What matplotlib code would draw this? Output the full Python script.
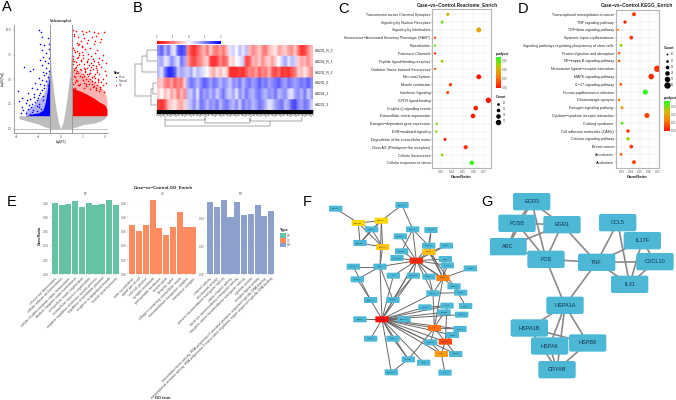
import matplotlib
matplotlib.use("Agg")
import numpy as np
import matplotlib.pyplot as plt
from matplotlib.colors import LinearSegmentedColormap, Normalize
from matplotlib.cm import ScalarMappable
from matplotlib.patches import FancyBboxPatch, Rectangle

plt.rcParams["font.family"] = ["Liberation Sans", "DejaVu Sans"]

W, H = 676, 400
GRAY_TXT = "#4d4d4d"

# ================= A: volcano =================
v_gray_x = [-1.0, -0.95, -0.85, -0.7, -0.55, -0.4, -0.2, 0.0, 0.2, 0.4, 0.55, 0.7, 0.85, 0.95, 1.0]
v_gray_top = [10.0, 7.5, 5.6, 4.3, 2.9, 1.8, 0.6, 0.0, 0.6, 1.8, 2.9, 4.3, 5.6, 7.5, 10.0]
v_wing_lx = [-3.8, -3.0, -2.0, -1.5, -1.0]
v_wing_llow = [1.0, 0.75, 0.45, 0.2, 0.03]
v_wing_rx = [1.0, 1.5, 2.0, 3.0, 3.6, 4.1]
v_wing_rlow = [0.03, 0.2, 0.4, 0.55, 0.75, 1.1]
v_red_x = [1.0, 1.5, 2.0, 2.5, 3.0, 3.5, 4.0, 4.2]
v_red_dense = [4.2, 3.9, 3.7, 3.4, 3.1, 2.7, 2.4, 2.0]
v_red_mid = [6.4, 6.0, 5.6, 5.2, 4.8, 4.4, 3.8, 3.0]
v_blue_x = [-3.2, -2.5, -2.0, -1.6, -1.4, -1.2, -1.0]
v_blue_dense = [1.3, 1.5, 1.6, 1.9, 2.7, 4.0, 5.5]
v_blue_mid = [1.8, 2.4, 3.0, 3.4, 4.0, 5.2, 6.2]
v_blue_px = [-2.0, -1.8, -1.7, -1.2, -1.9, -1.5, -1.1, -1.05, -1.7, -1.3, -1.6, -1.1, -1.9, -1.4, -1.15,
             -1.75, -1.3, -1.6, -1.1, -3.3, -2.5, -2.8, -1.5, -1.2, -2.0, -1.7, -1.3, -2.3, -1.9, -1.5,
             -1.2, -2.6, -2.2, -1.7, -3.9, -3.0, -2.4, -2.0, -1.6, -3.5, -2.8, -2.2, -3.8, -3.2, -2.6,
             -2.0, -3.5, -3.0, -2.5, -2.2, -1.8, -3.2, -2.8, -2.4, -2.0, -2.7, -2.1, -1.85, -2.9, -2.35,
             -1.55, -3.4, -2.65, -1.95, -1.35, -3.1, -2.15, -1.65, -2.45, -3.6]
v_blue_py = [10.0, 9.8, 9.3, 9.2, 8.6, 8.5, 8.6, 8.1, 8.0, 7.7, 7.3, 7.2, 7.0, 6.9, 6.6,
             6.4, 6.1, 5.7, 5.8, 6.2, 6.0, 5.8, 5.4, 5.2, 5.1, 4.9, 4.8, 4.6, 4.5, 4.4,
             4.4, 4.1, 4.0, 3.9, 3.8, 3.6, 3.5, 3.4, 3.3, 3.1, 3.0, 2.9, 2.8, 2.6, 2.5,
             2.5, 2.2, 2.0, 1.9, 1.8, 2.0, 1.6, 1.5, 1.5, 1.5, 2.2, 3.1, 3.6, 2.4, 2.7,
             4.1, 1.9, 1.7, 2.2, 5.6, 2.9, 2.3, 2.9, 3.2, 1.6]
v_red_px = [1.1, 1.4, 1.9, 2.3, 2.6, 3.0, 3.4, 3.9, 1.2, 1.6, 2.1, 2.8, 3.2, 3.7, 1.05,
            1.5, 1.55, 1.65, 1.8, 2.4, 3.0, 3.6, 1.1, 1.9, 2.2, 2.7, 3.3, 1.3, 1.7, 2.5,
            3.1, 3.8, 1.15, 1.6, 2.0, 2.9, 3.5, 1.25, 1.85, 2.35, 3.0, 3.4, 4.1, 1.1, 1.5,
            2.1, 2.6, 3.2, 3.7, 1.3, 1.75, 2.4, 2.9, 3.3, 4.0, 1.05, 1.6, 2.2, 2.7, 3.5,
            1.2, 1.9, 2.5, 3.1, 3.8, 1.4, 2.0, 2.8, 3.4, 4.15, 1.1, 1.7, 2.3, 3.0, 3.6,
            1.3, 2.15, 2.65, 3.25, 3.95, 1.5, 1.95, 2.45, 3.15, 3.75, 4.1, 1.2, 2.05, 2.75, 3.45,
            1.08, 1.35, 1.62, 1.88, 2.12, 2.38, 2.62, 2.88, 3.12, 3.38, 3.62, 3.88, 1.18, 1.42, 1.72, 1.98,
            2.28, 2.52, 2.82, 3.08, 3.32, 3.58, 1.03, 1.28, 1.52, 1.78, 2.08, 2.32, 2.58, 2.92, 3.22, 3.52,
            1.12, 1.38, 1.68, 1.92, 2.18, 2.42, 2.72, 2.98, 3.28, 1.22, 1.48, 1.82, 2.02, 2.48, 2.78, 3.18,
            1.33, 1.58, 2.25, 2.55, 2.85, 1.45, 2.12, 2.68, 3.05, 3.42]
v_red_py = [10.0, 9.9, 9.9, 9.8, 9.9, 9.8, 9.7, 9.8, 9.4, 9.3, 9.2, 9.3, 9.4, 9.1, 8.9,
            8.7, 8.5, 8.6, 8.9, 8.7, 8.6, 8.8, 8.2, 8.3, 8.1, 8.2, 8.0, 7.8, 7.7, 7.6,
            7.7, 7.5, 7.4, 7.3, 7.2, 7.1, 7.2, 6.9, 6.9, 6.8, 6.9, 6.7, 6.6, 6.5, 6.4,
            6.5, 6.4, 6.3, 6.2, 6.1, 6.0, 6.1, 6.0, 5.9, 5.8, 5.7, 5.6, 5.7, 5.6, 5.5,
            5.3, 5.2, 5.3, 5.1, 5.0, 4.9, 4.9, 4.8, 4.7, 4.6, 4.5, 4.4, 4.5, 4.3, 4.2,
            4.1, 4.1, 4.0, 3.9, 3.7, 7.9, 8.4, 9.0, 8.9, 7.0, 5.4, 9.6, 9.55, 7.35, 6.55,
            6.8, 6.2, 6.5, 5.9, 6.1, 5.5, 5.9, 5.2, 5.5, 5.0, 4.7, 4.4, 5.9, 5.6, 5.3, 5.5,
            5.0, 4.8, 4.5, 4.7, 4.4, 4.0, 5.0, 5.2, 4.8, 4.5, 4.6, 4.3, 4.5, 4.2, 4.1, 3.8,
            7.1, 6.7, 7.5, 7.8, 6.0, 6.7, 6.2, 6.4, 5.7, 8.0, 7.2, 7.0, 7.5, 7.1, 6.6, 6.1,
            4.7, 4.4, 5.8, 5.5, 5.2, 5.8, 5.3, 5.0, 5.3, 4.9]

# ================= B: heatmap =================
heat_rows = ["hiB201_R_3", "hiB201_R_1", "hiB201_R_2", "hiB201_0", "hiB201_1", "hiB201_3"]
heat_ticks = ["-2", "-1", "0", "1", "2"]
heat_1 = [5, 7, 3, 6, 2, 1, 7, 8, 7, -5, -8, -9, -7, -5, -3, -6, -2, -5, -6, -4, -6, -3, 1, 2, 0, 3, 1, 3,
          -3, -5, -4, -2, -5, -6, -3, -2, -1, -4, -3, -2, -4, -5, -2, -6, -9, -8, -5, -3]
heat_2 = [3, 4, 1, 2, 5, 3, 1, 6, 4, -4, -7, -8, -6, -5, -3, -2, -8, -9, -8, -5, -7, -6, -1, -2, 0, 1, 2, -8,
          -7, -3, -4, -2, -5, -3, -2, -4, -2, 0, 2, 4, 1, 3, 2, -2, -4, -3, -5, -3]
heat_3 = [3, 1, 6, 9, 9, 7, 2, 4, 3, 2, 4, 1, 3, 2, 1, 0, -2, -4, -1, -3, -1, -2, -9, -9, -9, -8, -9, -7,
          -5, -6, -4, -7, -5, -6, -3, -7, -8, -6, -9, -8, -9, -7, -6, -2, -3, -1, -3, -5]
heat_4 = [-3, -2, -5, -6, -4, -7, -5, -6, -2, 4, 6, 5, 3, 5, 7, 6, 4, 6, 5, 3, 5, 4, 2, 5, 4, 6, 3, 5,
          6, 4, 5, 7, 5, 6, 4, 5, 6, 7, 5, 4, 6, 5, 4, 5, 6, 5, 7, 5]
heat_5 = [-2, 0, -3, -1, -4, -2, -6, -3, -5, 3, 2, 5, 1, 6, 4, 5, 3, 5, 2, 4, 6, 3, 2, 4, 1, 5, 3, 6,
          4, 3, 5, 6, 4, 3, 5, 4, 6, 3, 4, 5, 2, 1, 4, 5, 3, 6, 2, 4]
heat_6 = [-8, -9, -7, -3, -2, -1, -3, -4, -2, 2, 3, 5, 2, 6, 5, 3, 5, 4, 6, 3, 5, 6, 4, 3, 5, 2, 6, 4,
          5, 3, 4, 6, 5, 3, 1, 2, 4, 5, 6, 3, 4, 7, 8, 5, 4, 6, 5, 2]
leaf_len = [5, 3, 6, 4, 7, 3, 5, 6, 2, 4, 6, 5, 3, 7, 4]

# ================= C: Reactome dots =================
c_terms = ["Transmission across Chemical Synapses", "Signaling by Nuclear Receptors", "Signaling by Interleukins",
           "Senescence\u2212Associated Secretory Phenotype (SASP)", "Reproduction", "Potassium Channels",
           "Peptide ligand\u2212binding receptors", "Oxidative Stress Induced Senescence", "Neuronal System",
           "Muscle contraction", "Interferon Signaling", "GPCR ligand binding", "G alpha (i) signalling events",
           "Extracellular matrix organization", "Estrogen\u2212dependent gene expression", "ESR\u2212mediated signaling",
           "Degradation of the extracellular matrix", "Class A/1 (Rhodopsin\u2212like receptors)", "Cellular Senescence",
           "Cellular responses to stress"]
c_ratio = [.0362, .031, .065, .0244, .0244, .0244, .031, .0244, .065, .0387, .0362, .074, .0622, .0597, .026, .0257,
           .0337, .0529, .031, .0585]
c_count = [24, 21, 44, 16, 16, 16, 21, 16, 44, 26, 24, 50, 42, 40, 17, 17, 23, 36, 21, 40]
c_padj = [.10, .15, .09, .03, .15, .01, .12, .04, .0, .02, .03, .0, .01, .0, .14, .14, .0, .015, .13, .16]

# ================= D: KEGG dots =================
d_terms = ["Transcriptional misregulation in cancer", "TNF signaling pathway", "TGF\u2212beta signaling pathway",
           "Systemic lupus erythematosus", "Signaling pathways regulating pluripotency of stem cells",
           "Protein digestion and absorption", "NF\u2212kappa B signaling pathway",
           "Neuroactive ligand\u2212receptor interaction", "MAPK signaling pathway", "IL\u221217 signaling pathway",
           "Human papillomavirus infection", "Glutamatergic synapse", "Estrogen signaling pathway",
           "Cytokine\u2212cytokine receptor interaction", "Cushing syndrome", "Cell adhesion molecules (CAMs)",
           "Calcium signaling pathway", "Breast cancer", "Amoebiasis", "Alcoholism"]
d_ratio = [.0434, .0334, .0252, .0404, .0289, .0267, .0267, .0694, .0627, .0286, .0561, .0267, .03, .0579, .03,
           .0367, .0367, .0404, .0289, .0434]
d_count = [33, 26, 14, 31, 22, 18, 18, 60, 52, 20, 47, 18, 22, 47, 22, 28, 28, 31, 20, 33]
d_padj = [.004, .002, .012, .003, .028, .008, .008, .003, .003, .008, .035, .012, .016, .006, .032, .004, .028,
          .003, .008, .006]

# ================= E: GO bars =================
bp_terms = ["calcium ion homeostasis", "cellular calcium ion homeostasis",
            "cellular divalent inorganic cation homeostasis", "divalent inorganic cation homeostasis",
            "extracellular matrix organization", "extracellular structure organization",
            "negative regulation of immune system process", "regulation of membrane potential",
            "response to lipopolysaccharide", "muscle system process"]
bp_ratio = [.1005, .0972, .0991, .1023, .0940, .1005, .0972, .0991, .1037, .0972]
cc_terms = ["actin cytoskeleton", "apical part of cell", "cell\u2212cell junction", "synaptic membrane",
            "postsynaptic membrane", "neuron spine", "dendritic spine",
            "collagen\u2212containing extracellular matrix", "transmembrane transporter complex", "transporter complex"]
cc_ratio = [.0693, .0605, .0693, .1037, .0647, .0558, .0660, .0870, .0660, .0660]
mf_terms = ["channel activity", "ion channel activity", "passive transmembrane transporter activity",
            "cation channel activity", "metal ion transmembrane transporter activity",
            "inorganic cation transmembrane transporter activity", "cytokine activity",
            "receptor ligand activity",
            "transcription factor activity, RNA polymerase II proximal promoter sequence\u2212specific DNA binding",
            "transcriptional activator activity, RNA polymerase II transcription regulatory region sequence\u2212specific DNA binding"]
mf_ratio = [.0517, .0483, .0531, .0410, .0517, .0424, .0433, .0493, .0417, .0452]
bp_ticks = [0, .02, .04, .06, .08, .10]
cc_ticks = [0, .02, .04, .06, .08, .10]
mf_ticks = [0, .02, .04]

# ================= F: network =================
f_names = ["CCNA1", "DNAJA1", "HSPA1B", "HSPA1A", "HSPH1", "DNAJB1", "HSPA8", "KCNC3", "TGM2", "CDKN2A", "SLC7A2",
           "EGR1", "GRIA1", "MMP13", "ADAM12", "FOS", "CCL2", "LGALS4", "MMP9", "EGF", "PENK", "MFAP5", "IL31",
           "CYP19A1", "FAM3", "EGR3", "NR4A3", "COL8A1", "CXCR4", "SNAI1", "MMP3", "MMP11", "IGF1", "GJA5", "KCND2",
           "ANXA1", "NGFR", "TNF", "COL1A1", "IL6", "CXCL3", "IL1RN", "MMP10", "CD44", "SLC2A3", "CXCL8", "IL1B",
           "CCL20", "ELANE", "BGN", "MUC5AC", "LEP"]
f_x = [47, 246, 115, 184, 155, 120, 188, 278, 333, 241, 326, 327, 379, 245, 231, 289, 376, 382, 100, 180, 451, 112,
       220, 280, 327, 369, 402, 152, 219, 339, 422, 315, 381, 437, 372, 425, 120, 186, 252, 343, 420, 397, 152, 219,
       332, 376, 364, 407, 265, 311, 214, 375]
f_y = [101, 90, 144, 137, 163, 204, 216, 163, 165, 184, 212, 231, 212, 229, 249, 257, 252, 271, 275, 275, 280, 313,
       302, 302, 305, 309, 334, 375, 375, 355, 353, 397, 392, 393, 412, 419, 433, 433, 433, 459, 462, 480, 491, 491,
       502, 500, 537, 537, 553, 563, 592, 593]
f_colors = {"HSPA1B": "#FFD700", "HSPA1A": "#FFD700", "HSPA8": "#FFC414", "EGR1": "#FFBE14", "FOS": "#FF2A0A",
            "EGR3": "#FF7F0E", "TNF": "#FF0A0A", "IL6": "#FF7014", "CXCL8": "#FF4A0A", "IL1B": "#FF9A14"}
f_edges = [("CCNA1", "HSPA1B"), ("DNAJA1", "HSPA1A"), ("DNAJA1", "KCNC3"), ("HSPA1B", "HSPA1A"), ("HSPA1B", "HSPH1"),
           ("HSPA1B", "DNAJB1"), ("HSPA1B", "HSPA8"), ("HSPA1A", "HSPH1"), ("HSPA1A", "DNAJB1"), ("HSPA1A", "HSPA8"),
           ("HSPA1A", "EGF"), ("HSPH1", "DNAJB1"), ("HSPH1", "HSPA8"), ("DNAJB1", "HSPA8"), ("HSPA8", "EGF"),
           ("KCNC3", "FOS"), ("KCNC3", "SLC7A2"), ("KCNC3", "MMP13"), ("TGM2", "SLC7A2"), ("TGM2", "EGR1"),
           ("CDKN2A", "FOS"), ("SLC7A2", "FOS"), ("SLC7A2", "EGR3"), ("EGR1", "FOS"), ("EGR1", "EGR3"),
           ("GRIA1", "FOS"), ("GRIA1", "EGR1"), ("MMP13", "FOS"), ("ADAM12", "FOS"), ("FOS", "CCL2"), ("FOS", "LGALS4"),
           ("FOS", "EGR3"), ("FOS", "FAM3"), ("FOS", "EGF"), ("FOS", "CYP19A1"), ("FOS", "IL31"), ("FOS", "CXCR4"),
           ("FOS", "SNAI1"), ("FOS", "TNF"), ("FOS", "NR4A3"), ("EGR3", "PENK"), ("EGR3", "CCL2"), ("EGR3", "LGALS4"),
           ("EGR3", "SNAI1"), ("EGR3", "IL6"), ("EGR1", "NR4A3"), ("MMP9", "EGF"), ("MFAP5", "EGF"), ("MMP9", "COL8A1"),
           ("MFAP5", "COL8A1"), ("EGF", "TNF"), ("EGF", "CXCR4"), ("IL31", "TNF"), ("CYP19A1", "TNF"),
           ("COL8A1", "TNF"), ("CXCR4", "TNF"), ("SNAI1", "TNF"), ("SNAI1", "MMP3"), ("SNAI1", "IL6"), ("NR4A3", "MMP3"),
           ("NR4A3", "GJA5"), ("MMP11", "TNF"), ("IGF1", "TNF"), ("KCND2", "TNF"), ("ANXA1", "TNF"), ("IGF1", "CXCL8"),
           ("KCND2", "IL6"), ("NGFR", "TNF"), ("COL1A1", "TNF"), ("IL6", "TNF"), ("CXCL3", "TNF"), ("IL1RN", "TNF"),
           ("MMP10", "TNF"), ("CD44", "TNF"), ("SLC2A3", "TNF"), ("CXCL8", "TNF"), ("IL1B", "TNF"), ("CCL20", "TNF"),
           ("ELANE", "TNF"), ("BGN", "TNF"), ("MUC5AC", "TNF"), ("IL6", "CXCL3"), ("IL6", "CXCL8"), ("IL6", "SLC2A3"),
           ("IL6", "ELANE"), ("CXCL8", "IL1B"), ("CXCL8", "CCL20"), ("CXCL8", "CXCL3"), ("IL1B", "LEP"), ("IL1B", "SLC2A3"),
           ("CD44", "ELANE"), ("ELANE", "MUC5AC"), ("CYP19A1", "CXCR4"), ("FAM3", "SNAI1"), ("MMP11", "IGF1")]

# ================= G: network =================
g_names = ["EGR3", "FOSB", "EGR1", "ARC", "FOS", "CCL5", "IL17F", "CXCL10", "TNF", "IL31", "HSPA1A", "HSPA1B",
           "HSPA6", "HSPB8", "CRYAB"]
g_x = [125, 81, 216, 54, 168, 383, 457, 495, 320, 419, 225, 118, 179, 293, 201]
g_y = [80, 145, 149, 215, 253, 143, 197, 260, 262, 328, 391, 459, 513, 504, 584]
g_edges = [("EGR3", "FOSB"), ("EGR3", "EGR1"), ("EGR3", "ARC"), ("EGR3", "FOS"), ("FOSB", "EGR1"), ("FOSB", "ARC"),
           ("FOSB", "FOS"), ("EGR1", "ARC"), ("EGR1", "FOS"), ("EGR1", "TNF"), ("ARC", "FOS"), ("FOS", "TNF"),
           ("FOS", "HSPA1A"), ("TNF", "HSPA1A"), ("TNF", "CCL5"), ("TNF", "IL17F"), ("TNF", "CXCL10"), ("TNF", "IL31"),
           ("CCL5", "IL31"), ("IL17F", "IL31"), ("IL17F", "CXCL10"), ("CXCL10", "IL31"), ("HSPA1A", "HSPA1B"),
           ("HSPA1A", "HSPA6"), ("HSPA1A", "HSPB8"), ("HSPA1A", "CRYAB"), ("HSPA1B", "HSPB8"), ("HSPA1B", "CRYAB"),
           ("HSPA6", "CRYAB"), ("HSPB8", "CRYAB")]


def ax_px(fig, x0, y0, x1, y1):
    # pixel box with the origin at the top left
    return fig.add_axes([x0 / W, 1 - y1 / H, (x1 - x0) / W, (y1 - y0) / H])


def plot_volcano(fig, top):
    ax = ax_px(fig, 13.5, 25, 108, 133)
    ax.set_xlim(-4.3, 4.3)
    ax.set_ylim(-0.45, 10.5)
    ax.fill_between(v_gray_x, 0, v_gray_top, color="#bdbdbd", lw=0)
    ax.fill_between(v_wing_lx, v_wing_llow, 1.3, color="#bdbdbd", lw=0)
    ax.fill_between(v_wing_rx, v_wing_rlow, 1.3, color="#bdbdbd", lw=0)
    ax.fill_between(v_red_x, 1.3, v_red_mid, color="#ff0000", lw=0, alpha=0.3)
    ax.fill_between(v_red_x, 1.3, v_red_dense, color="#ff0000", lw=0)
    ax.fill_between(v_blue_x, 1.3, v_blue_mid, color="#0000ff", lw=0, alpha=0.3)
    ax.fill_between(v_blue_x, 1.3, v_blue_dense, color="#0000ff", lw=0)
    ax.scatter(v_red_px, v_red_py, s=1.3, color="#ff0000", lw=0)
    ax.scatter(v_blue_px, v_blue_py, s=1.3, color="#0000ff", lw=0)
    ax.axvline(-1, color="#9a9a9a", lw=0.7)
    ax.axvline(1, color="#9a9a9a", lw=0.7)
    ax.axhline(0, color="#9a9a9a", lw=0.4)
    for s in ["top", "right"]:
        ax.spines[s].set_visible(False)
    for s in ["left", "bottom"]:
        ax.spines[s].set_color("#555555")
        ax.spines[s].set_linewidth(0.4)
    ax.set_xticks([-4, -2, 0, 2, 4])
    ax.set_yticks([0, 2.5, 5, 7.5, 10])
    ax.set_yticklabels(["0.0", "2.5", "5.0", "7.5", "10.0"])
    ax.tick_params(labelsize=2, length=0.8, width=0.25, pad=0.5, colors=GRAY_TXT)
    ax.set_xlabel("log2(FC)", fontsize=2, labelpad=0.5)
    ax.set_ylabel("-log10(Padj)", fontsize=2, labelpad=0.8)
    top.text(61, 21, "Volcanoplot", fontsize=2.8, ha="center", va="center", fontweight="bold", color="#333333")
    top.text(114, 72.5, "New", fontsize=2.2, fontweight="bold", va="center")
    for yy, lab, col in [(77, "Down", "#0000ff"), (81, "Normal", "#bdbdbd"), (85, "Up", "#ff0000")]:
        top.scatter([116], [yy], s=0.8, color=col, lw=0)
        top.text(119, yy, lab, fontsize=2, va="center", color=GRAY_TXT)


def plot_heatmap(fig, top):
    cmap = LinearSegmentedColormap.from_list("rwb", ["#ff0000", "#ffffff", "#0000ff"])
    ax = ax_px(fig, 157, 45, 313, 110)
    mat = np.array([heat_1, heat_2, heat_3, heat_4, heat_5, heat_6])
    # repeat rows so the smoothing stays along the columns
    ax.imshow(np.repeat(mat, 8, axis=0), aspect="auto", cmap=cmap, vmin=-11, vmax=11, interpolation="bilinear")
    ax.axis("off")
    for i, lab in enumerate(heat_rows):
        top.text(315, 50.4 + i * 10.83, lab, fontsize=2.4, va="center", color="#222222")

    cax = ax_px(fig, 157, 40.5, 221, 44)
    cax.imshow(np.linspace(-1, 1, 100)[None, :], aspect="auto", cmap=cmap, extent=[-2, 2, 0, 1])
    cax.set_yticks([])
    cax.set_xticks([-2, -1, 0, 1, 2])
    cax.set_xticklabels(heat_ticks)
    cax.xaxis.tick_top()
    cax.tick_params(labelsize=2, length=0.8, width=0.2, pad=0.2, colors=GRAY_TXT)
    for s in cax.spines.values():
        s.set_visible(False)

    # row tree
    for px, py in [([157, 147.3, 147.3, 157], [50, 50, 61, 61]),
                   ([147.3, 141.7, 141.7, 157], [55.5, 55.5, 72, 72]),
                   ([157, 152.7, 152.7, 157], [83, 83, 94, 94]),
                   ([152.7, 150.7, 150.7, 157], [88.5, 88.5, 105, 105]),
                   ([141.7, 135, 135, 150.7], [63.5, 63.5, 96, 96])]:
        top.plot(px, py, color="#555555", lw=0.35, solid_capstyle="butt")

    # column tree: dense leaves then a few long branches
    xs = np.linspace(157, 313, 157)
    lens = [leaf_len[i % len(leaf_len)] for i in range(len(xs))]
    top.vlines(xs, 110, 111.5 + np.array(lens) * 0.8, color="black", lw=0.35)
    top.add_patch(Rectangle((157, 110), 156, 3.5, color="black", lw=0))
    for px, py in [([165, 165, 205, 205], [116, 120, 120, 117]),
                   ([205, 205, 250, 250], [118, 123, 123, 118]),
                   ([250, 250, 302, 302], [118, 121, 121, 117]),
                   ([165, 165, 270, 270], [120, 125.5, 125.5, 121])]:
        top.plot(px, py, color="#555555", lw=0.35)


def plot_dots(fig, top, box, xlim, ylim, terms, ratio, count, padj, vmax, ticks, title, title_x, label_fs):
    cmap = LinearSegmentedColormap.from_list("padj", ["#ff1500", "#ff7a00", "#c9c000", "#20ff20"])
    ax = ax_px(fig, *box)
    ax.set_xlim(*xlim)
    ax.set_ylim(*ylim)
    ax.set_axisbelow(True)
    ax.grid(color="#e6e6e6", lw=0.3)
    # dot size grows with gene count
    sizes = [(0.95 + 0.09 * c) ** 2 * 0.52 for c in count]
    ax.scatter(ratio, range(len(terms)), s=sizes, c=padj, cmap=cmap, vmin=0, vmax=vmax, lw=0, zorder=3)
    ax.set_yticks(range(len(terms)))
    ax.set_yticklabels(terms, fontsize=label_fs, color="#222222")
    ax.set_xticks(ticks)
    ax.set_xticklabels(["%.2f" % t for t in ticks], fontsize=2.2, color=GRAY_TXT)
    ax.tick_params(length=0.8, width=0.25, pad=0.6, color="#555555")
    for s in ax.spines.values():
        s.set_color("#b5b5b5")
        s.set_linewidth(0.8)
    ax.set_xlabel("GeneRatio", fontsize=3, fontweight="bold", labelpad=0.6, color="#222222")
    top.text(title_x, 4.5, title, fontsize=3.4, fontweight="bold", ha="center", va="center", color="#222222")
    return cmap


def add_colorbar(fig, top, cmap, box, vmax, ticks, labels, title_xy):
    cax = ax_px(fig, *box)
    cb = fig.colorbar(ScalarMappable(Normalize(0, vmax), cmap), cax=cax)
    cb.set_ticks(ticks)
    cb.set_ticklabels(labels)
    cb.ax.tick_params(labelsize=2, length=0, pad=0.8, colors=GRAY_TXT)
    cb.outline.set_visible(False)
    top.text(*title_xy, "p.adjust", fontsize=2.4, fontweight="bold", va="center", color="#222222")


def add_count_legend(top, x, ys, counts, title_y):
    top.text(x - 2.5, title_y, "Count", fontsize=2.6, fontweight="bold", va="center", color="#222222")
    for yy, c in zip(ys, counts):
        top.scatter([x], [yy], s=(0.95 + 0.09 * c) ** 2 * 0.52, color="black", lw=0)
        top.text(x + 4.5, yy, str(c), fontsize=2, va="center", color=GRAY_TXT)


def plot_go_bars(fig, top):
    facets = [("BP", 50.7, 120, bp_terms, bp_ratio, bp_ticks, "#66C2A5", 0.1072),
              ("CC", 128.3, 197.3, cc_terms, cc_ratio, cc_ticks, "#FF8C5E", 0.1072),
              ("MF", 206, 275.3, mf_terms, mf_ratio, mf_ticks, "#8DA0CB", 0.0545)]
    for name, x0, x1, terms, vals, ticks, col, ymax in facets:
        ax = ax_px(fig, x0, 198, x1, 274.3)
        ax.bar(range(10), vals, width=0.9, color=col, lw=0)
        ax.set_xlim(-0.6, 9.6)
        ax.set_ylim(0, ymax)
        ax.grid(axis="y", color="#f2f2f2", lw=0.25)
        ax.set_axisbelow(True)
        for s in ax.spines.values():
            s.set_visible(False)
        ax.set_yticks(ticks)
        ax.set_yticklabels(["%.2f" % t for t in ticks])
        ax.set_xticks(range(10))
        ax.set_xticklabels(terms, rotation=45, ha="right", rotation_mode="anchor")
        ax.tick_params(axis="y", labelsize=2, length=0.8, width=0.25, pad=0.6, colors=GRAY_TXT)
        ax.tick_params(axis="x", labelsize=2.4, length=0.8, width=0.25, pad=0.8, colors=GRAY_TXT)
        top.text((x0 + x1) / 2, 193.7, name, fontsize=2, ha="center", va="center", color=GRAY_TXT)
    top.text(163, 187.7, "Case\u2212vs\u2212Control.GO_Enrich", fontsize=3.2, fontweight="bold", ha="center", va="center",
             color="#222222")
    top.text(40, 235, "GeneRatio", fontsize=2.8, fontweight="bold", rotation=90, ha="center", va="center",
             color="#222222")
    top.text(163, 398, "GO term", fontsize=2.8, fontweight="bold", ha="center", va="center", color="#222222")
    top.text(280, 229.5, "Type", fontsize=2.8, fontweight="bold", va="center", color="#222222")
    for yy, lab, col in [(235.7, "BP", "#66C2A5"), (240.5, "CC", "#FF8C5E"), (245.2, "MF", "#8DA0CB")]:
        top.add_patch(Rectangle((280, yy - 2.3), 5.6, 4.6, color=col, lw=0))
        top.text(287, yy, lab, fontsize=2, va="center", color=GRAY_TXT)


def plot_network(ax, names, xs, ys, edges, node_w, node_h, font, edge_lw, edge_col, colors, txt_col, rad):
    pos = dict(zip(names, zip(xs, ys)))
    for a, b in edges:
        ax.plot([pos[a][0], pos[b][0]], [pos[a][1], pos[b][1]], color=edge_col, lw=edge_lw, zorder=1)
    for n in names:
        x, y = pos[n]
        ax.add_patch(FancyBboxPatch((x - node_w / 2 + rad, y - node_h / 2 + rad), node_w - 2 * rad, node_h - 2 * rad,
                                    boxstyle="round,pad=%f,rounding_size=%f" % (rad, rad),
                                    fc=colors.get(n, "#4DB8D5"), ec="none", zorder=2))
        ax.text(x, y, n, fontsize=font, ha="center", va="center", color=txt_col, zorder=3)


def main():
    fig = plt.figure(figsize=(W / 100, H / 100), dpi=100)

    # overlay in pixel coordinates for loose text and legends
    top = fig.add_axes([0, 0, 1, 1], zorder=10)
    top.set_xlim(0, W)
    top.set_ylim(H, 0)
    top.axis("off")
    top.patch.set_alpha(0)

    plot_volcano(fig, top)
    plot_heatmap(fig, top)

    cm = plot_dots(fig, top, (432.3, 9.3, 490.7, 168.3), (.0219, .0761), (19.7, -0.64), c_terms, c_ratio, c_count,
                   c_padj, 0.17, [.03, .04, .05, .06, .07], "Case\u2212vs\u2212Control.Reactome_Enrich", 457, 2.55)
    add_colorbar(fig, top, cm, (496, 56.7, 500.7, 87.7), 0.17, [0, .05, .10, .15], ["0.00", "0.05", "0.10", "0.15"],
                 (496, 53.5))
    add_count_legend(top, 498.3, [103.5, 109.5, 115.5, 121.5], [20, 30, 40, 50], 97)

    cm = plot_dots(fig, top, (615.7, 10, 659, 168), (.02294, .0714), (19.75, -0.55), d_terms, d_ratio, d_count, d_padj,
                   0.036, [.03, .04, .05, .06, .07], "Case\u2212vs\u2212Control.KEGG_Enrich", 637, 2.6)
    add_count_legend(top, 666.5, [54, 60.5, 66.5, 72.5, 78.5, 84.5], [10, 20, 30, 40, 50, 60], 47.7)
    add_colorbar(fig, top, cm, (664, 101, 669.8, 131), 0.036, [0, .01, .02, .03], ["0.00", "0.01", "0.02", "0.03"],
                 (663.5, 97.5))

    plot_go_bars(fig, top)

    ax = ax_px(fig, 320, 175, 490, 400)
    ax.set_xlim(0, 510)
    ax.set_ylim(675, 0)
    ax.axis("off")
    plot_network(ax, f_names, f_x, f_y, f_edges, 40, 18, 1.5, 0.7, "#666666", f_colors, "#1d3a55", 2)

    ax = ax_px(fig, 490, 175, 676, 400)
    ax.set_xlim(0, 558)
    ax.set_ylim(675, 0)
    ax.axis("off")
    plot_network(ax, g_names, g_x, g_y, g_edges, 112, 52, 4.0, 1.2, "#8a8a8a", {}, "#12304d", 6)

    for lab, x, y in [("A", 1.5, 7), ("B", 133, 7.5), ("C", 338, 9), ("D", 518, 9), ("E", 6.5, 201.5), ("F", 302.5, 201.5),
                      ("G", 481.5, 201.5)]:
        top.text(x, y, lab, fontsize=10.5, va="center", ha="left", color="black")

    fig.savefig("out.png", dpi=100, facecolor="white")


if __name__ == "__main__":
    main()
